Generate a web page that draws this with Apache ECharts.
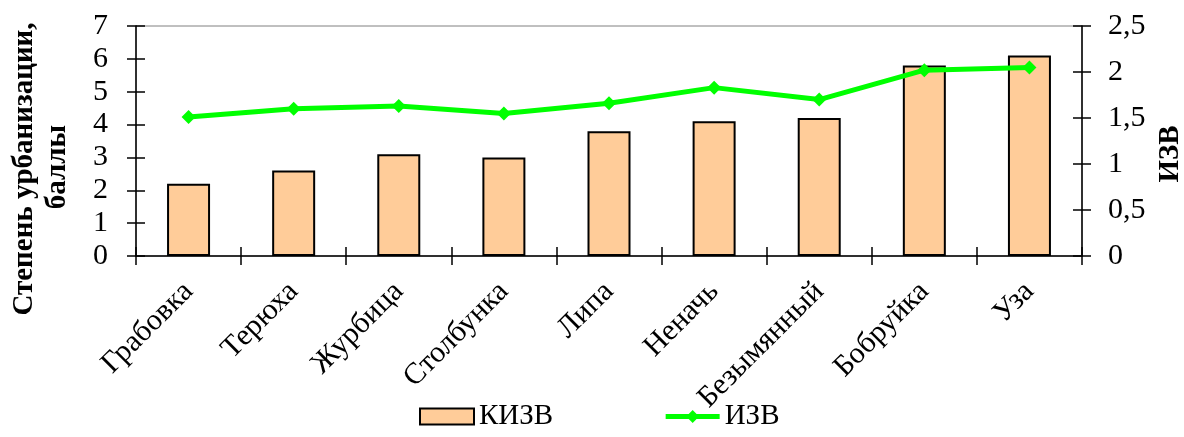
<!DOCTYPE html>
<html>
<head>
<meta charset="utf-8">
<script src="https://cdn.jsdelivr.net/npm/echarts@6/dist/echarts.min.js"></script>
<style>html,body{margin:0;padding:0;background:#fff;}#c{width:1184px;height:437px;}</style>
</head>
<body>
<div id="c"></div>
<script>
var categories = ['Грабовка','Терюха','Журбица','Столбунка','Липа','Неначь','Безымянный','Бобруйка','Уза'];
var kizv = [2.2, 2.6, 3.1, 3.0, 3.8, 4.1, 4.2, 5.8, 6.1];
var izv = [1.51, 1.60, 1.63, 1.55, 1.66, 1.83, 1.70, 2.02, 2.05];
var leftTitle = ['Степень урбанизации,', 'баллы'];
var rightTitle = 'ИЗВ';
var seriesNames = ['КИЗВ', 'ИЗВ'];

var FONT = '"Liberation Serif", "Times New Roman", serif';
var chart = echarts.init(document.getElementById('c'), null, {renderer: 'canvas'});
var fmtComma = function (v) { return String(v).replace('.', ','); };
var tickStyle = {color: '#000', width: 1.5};
chart.setOption({
  animation: false,
  backgroundColor: '#fff',
  textStyle: {fontFamily: FONT},
  grid: {left: 136, right: 102, top: 26, bottom: 181, containLabel: false,
         show: true, borderColor: '#808080', borderWidth: 1, backgroundColor: 'transparent'},
  legend: {
    bottom: 1, left: 414, itemGap: 110, itemWidth: 54, itemHeight: 16,
    textStyle: {fontFamily: FONT, fontSize: 29, color: '#000', padding: [2, 0, 0, 0]},
    data: [
      {name: seriesNames[0], icon: 'rect'},
      {name: seriesNames[1], lineStyle: {width: 5, color: '#00FF00'}}
    ]
  },
  xAxis: [
    {
      type: 'category', data: categories, boundaryGap: true,
      axisLine: {show: true, lineStyle: tickStyle}, splitLine: {show: false},
      axisTick: {show: true, length: 9, alignWithLabel: false, lineStyle: tickStyle},
      axisLabel: {rotate: 45, margin: 31, fontFamily: FONT, fontSize: 30, color: '#000', interval: 0}
    },
    {
      type: 'category', data: categories, boundaryGap: true, position: 'bottom',
      axisLine: {show: false}, axisLabel: {show: false}, splitLine: {show: false},
      axisTick: {show: true, inside: true, length: 9, lineStyle: tickStyle}
    }
  ],
  yAxis: [
    {
      type: 'value', min: 0, max: 7, interval: 1, position: 'left',
      axisLine: {show: true, lineStyle: tickStyle}, splitLine: {show: false},
      axisTick: {show: true, length: 9, lineStyle: tickStyle},
      axisLabel: {margin: 28, fontFamily: FONT, fontSize: 30, color: '#000'}
    },
    {
      type: 'value', min: 0, max: 2.5, interval: 0.5, position: 'right',
      axisLine: {show: true, lineStyle: tickStyle}, splitLine: {show: false},
      axisTick: {show: true, length: 9, lineStyle: tickStyle},
      axisLabel: {margin: 26, align: 'left', fontFamily: FONT, fontSize: 30, color: '#000', formatter: fmtComma}
    },
    {
      type: 'value', min: 0, max: 7, interval: 1, position: 'left',
      axisLine: {show: false}, axisLabel: {show: false}, splitLine: {show: false},
      axisTick: {show: true, inside: true, length: 9, lineStyle: tickStyle}
    },
    {
      type: 'value', min: 0, max: 2.5, interval: 0.5, position: 'right',
      axisLine: {show: false}, axisLabel: {show: false}, splitLine: {show: false},
      axisTick: {show: true, inside: true, length: 9, lineStyle: tickStyle}
    }
  ],
  graphic: [
    {type: 'text', x: 25, y: 169, rotation: Math.PI / 2,
     style: {text: leftTitle[0], font: 'bold 29px ' + FONT, fill: '#000', align: 'center', verticalAlign: 'middle'}},
    {type: 'text', x: 58, y: 167, rotation: Math.PI / 2,
     style: {text: leftTitle[1], font: 'bold 29px ' + FONT, fill: '#000', align: 'center', verticalAlign: 'middle'}},
    {type: 'text', x: 1171, y: 154, rotation: Math.PI / 2,
     style: {text: rightTitle, font: 'bold 29px ' + FONT, fill: '#000', align: 'center', verticalAlign: 'middle'}}
  ],
  series: [
    {name: seriesNames[0], type: 'bar', data: kizv, xAxisIndex: 0, yAxisIndex: 0, barWidth: 43,
     itemStyle: {color: '#FFCC99', borderColor: '#000', borderWidth: 2}},
    {name: seriesNames[1], type: 'line', data: izv, xAxisIndex: 0, yAxisIndex: 1,
     symbol: 'diamond', symbolSize: 14, z: 5,
     lineStyle: {color: '#00FF00', width: 5}, itemStyle: {color: '#00FF00'}}
  ]
});
</script>
</body>
</html>
